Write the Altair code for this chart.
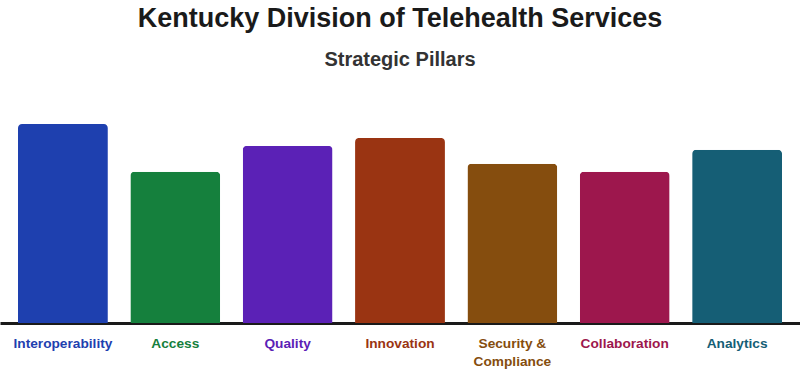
import altair as alt
import pandas as pd

pillars = ["Interoperability", "Access", "Quality", "Innovation",
           "Security & Compliance", "Collaboration", "Analytics"]
label_lines = ["Interoperability", "Access", "Quality", "Innovation",
               "Security &\nCompliance", "Collaboration", "Analytics"]
scores = [100, 76, 89, 93, 80, 76, 87]
colors = ["#1e40af", "#15803d", "#5b21b6", "#9a3412", "#854d0e", "#9d174d", "#155e75"]

df = pd.DataFrame({"pillar": pillars, "label": label_lines, "score": scores, "color": colors})

x = alt.X("pillar:N", sort=pillars,
          scale=alt.Scale(paddingInner=0.2, paddingOuter=0.16),
          axis=alt.Axis(title=None, labels=False, ticks=False, domain=True,
                        domainColor="#1a1a1a", domainWidth=3))

bars = alt.Chart(df).mark_bar(cornerRadiusTopLeft=4, cornerRadiusTopRight=4).encode(
    x=x,
    y=alt.Y("score:Q", scale=alt.Scale(domain=[0, 100]), axis=None),
    color=alt.Color("color:N", scale=None, legend=None),
)

labels = alt.Chart(df).mark_text(fontWeight="bold", fontSize=13.7, font="Liberation Sans",
                                 baseline="top", lineBreak="\n", lineHeight=18).encode(
    x=alt.X("pillar:N", sort=pillars),
    y=alt.value(213),
    text="label:N",
    color=alt.Color("color:N", scale=None, legend=None),
)

chart = alt.layer(bars, labels).properties(
    width=800, height=199,
    title=alt.TitleParams(
        text="Kentucky Division of Telehealth Services",
        subtitle="Strategic Pillars",
        fontSize=27, font="Liberation Sans", fontWeight="bold", color="#1a1a1a",
        subtitleFontSize=20, subtitleFont="Liberation Sans", subtitleFontWeight="bold",
        subtitleColor="#333333", subtitlePadding=17, anchor="middle", offset=53,
    ),
    autosize=alt.AutoSizeParams(type="none"),
    padding={"top": 124, "left": 0, "right": 0, "bottom": 48},
).configure_view(stroke=None)

chart.save("out.html", embed_options={"renderer": "svg", "actions": False})
